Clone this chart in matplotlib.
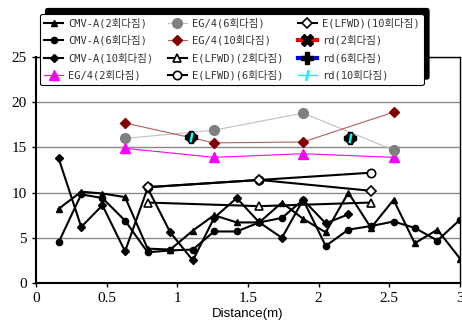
import matplotlib
matplotlib.use("Agg")
import matplotlib.pyplot as plt
import matplotlib.legend as mlegend
from matplotlib.lines import Line2D

# shadow offset up-right like the reference
_OrigShadow = mlegend.Shadow
mlegend.Shadow = lambda patch, ox, oy, **kw: _OrigShadow(patch, 4, 4, **kw)

# ---- data ----
cmv_x = [0.16, 0.32, 0.47, 0.63, 0.79, 0.95, 1.11, 1.26, 1.42, 1.58,
         1.74, 1.89, 2.05, 2.21, 2.37, 2.53, 2.68, 2.84, 3.0]
cmv_2 = [8.2, 10.1, 9.9, 9.5, 3.8, 3.7, 5.8, 7.5, 6.7, 6.7,
         8.9, 7.1, 5.6, 10.0, 6.1, 9.2, 4.4, 5.9, 2.7]
cmv_6 = [4.5, 9.8, 9.4, 6.9, 3.4, 3.6, 3.7, 5.7, 5.7, 6.7,
         7.2, 9.2, 4.1, 5.9, 6.3, 6.8, 6.1, 4.7, 7.0]
cmv_10_x = [0.16, 0.32, 0.47, 0.63, 0.79, 0.95, 1.11, 1.26, 1.42, 1.58,
            1.74, 1.89, 2.05, 2.21]
cmv_10 = [13.8, 6.2, 8.6, 3.5, 10.5, 5.6, 2.5, 7.2, 9.4, 6.7,
          5.0, 9.2, 6.6, 7.6]

eg_x = [0.63, 1.26, 1.89, 2.53]
eg_2 = [14.9, 13.9, 14.3, 13.9]
eg_6 = [16.0, 16.9, 18.8, 14.7]
eg_10 = [17.7, 15.5, 15.6, 18.9]

lfwd_x = [0.79, 1.58, 2.37]
lfwd_2 = [8.9, 8.5, 8.9]
lfwd_6 = [10.6, 11.4, 12.2]
lfwd_10 = [10.6, 11.4, 10.2]

rd_x = [1.10, 2.22]
rd_y = [16.1, 16.0]

labels = ["CMV-A(2회다짐)", "CMV-A(6회다짐)", "CMV-A(10회다짐)", "EG/4(2회다짐)",
          "EG/4(6회다짐)", "EG/4(10회다짐)", "E(LFWD)(2회다짐)", "E(LFWD)(6회다짐)",
          "E(LFWD)(10회다짐)", "rd(2회다짐)", "rd(6회다짐)", "rd(10회다짐)"]
xticks = [0, 0.5, 1, 1.5, 2, 2.5, 3]
xticklabels = ["0", "0.5", "1", "1.5", "2", "2.5", "3"]
yticks = [0, 5, 10, 15, 20, 25]

# ---- figure ----
fig = plt.figure(figsize=(4.62, 3.26), dpi=100)
ax = fig.add_axes([36/462, 1-283/326, (460-36)/462, (283-57)/326])
ax.set_xlim(0, 3)
ax.set_ylim(0, 25)

for y in yticks[1:]:
    ax.axhline(y, color="#8a8a8a", lw=1.0, zorder=0)

h = []
h += ax.plot(cmv_x, cmv_2, color="black", lw=1.5, marker="^", ms=5, zorder=3)
h += ax.plot(cmv_x, cmv_6, color="black", lw=1.5, marker="o", ms=4.5, zorder=3)
h += ax.plot(cmv_10_x, cmv_10, color="black", lw=1.5, marker="D", ms=4, zorder=3)
h += ax.plot(eg_x, eg_2, color="#ff00ff", lw=0.8, marker="^", ms=7, zorder=2)
h += ax.plot(eg_x, eg_6, color="#c0c0c0", lw=0.8, marker="o", ms=7,
             mfc="#808080", mec="#808080", zorder=2)
h += ax.plot(eg_x, eg_10, color="#b06060", lw=0.8, marker="D", ms=5.5,
             mfc="#800000", mec="#800000", zorder=2)
h += ax.plot(lfwd_x, lfwd_2, color="black", lw=1.5, marker="^", ms=6,
             mfc="white", mec="black", mew=1.2, zorder=4)
h += ax.plot(lfwd_x, lfwd_6, color="black", lw=1.5, marker="o", ms=6,
             mfc="white", mec="black", mew=1.2, zorder=4)
h += ax.plot(lfwd_x, lfwd_10, color="black", lw=1.5, marker="D", ms=5,
             mfc="white", mec="black", mew=1.2, zorder=4)
ax.plot(rd_x, rd_y, ls="none", marker="X", ms=7, color="black", zorder=5)
ax.plot(rd_x, rd_y, ls="none", marker="P", ms=8, color="black", zorder=5)
ax.plot(rd_x, rd_y, ls="none", marker="$I$", ms=6, mfc="#00ffff",
        mec="#00ffff", zorder=6)

h.append(Line2D([], [], color="red", lw=3, marker="X", ms=9, mfc="black", mec="black"))
h.append(Line2D([], [], color="blue", lw=3, marker="P", ms=9, mfc="black", mec="black"))
h.append(Line2D([], [], color="#00ffff", lw=1, marker="$I$", ms=7,
                mfc="#00ffff", mec="#00ffff"))

for s in ["left", "bottom"]:
    ax.spines[s].set_linewidth(1.5)
for s in ["right", "top"]:
    ax.spines[s].set_linewidth(1.0)

ax.set_xticks(xticks)
ax.set_xticklabels(xticklabels)
ax.set_yticks(yticks)
ax.tick_params(direction="out", length=3, width=1, labelsize=11)
for lab in ax.get_xticklabels() + ax.get_yticklabels():
    lab.set_family("Liberation Serif")
ax.set_xlabel("Distance(m)", fontsize=9.5, family="Liberation Sans", labelpad=2)

leg = fig.legend(h, labels, ncol=3, loc="upper left",
                 bbox_to_anchor=(40/462, 1-14/326),
                 prop={"family": ["DejaVu Sans Mono", "Noto Sans CJK KR"], "size": 7.5},
                 frameon=True, fancybox=True, framealpha=1, edgecolor="black",
                 shadow={"facecolor": "black", "edgecolor": "black", "alpha": 1},
                 handlelength=1.8, handletextpad=0.5, columnspacing=1.4,
                 labelspacing=0.65, borderpad=0.4, borderaxespad=0)
leg.get_frame().set_linewidth(0.8)
for t in leg.get_texts():
    t.set_color("#333333")
leg.set_zorder(10)

fig.savefig("out.png", dpi=100)
